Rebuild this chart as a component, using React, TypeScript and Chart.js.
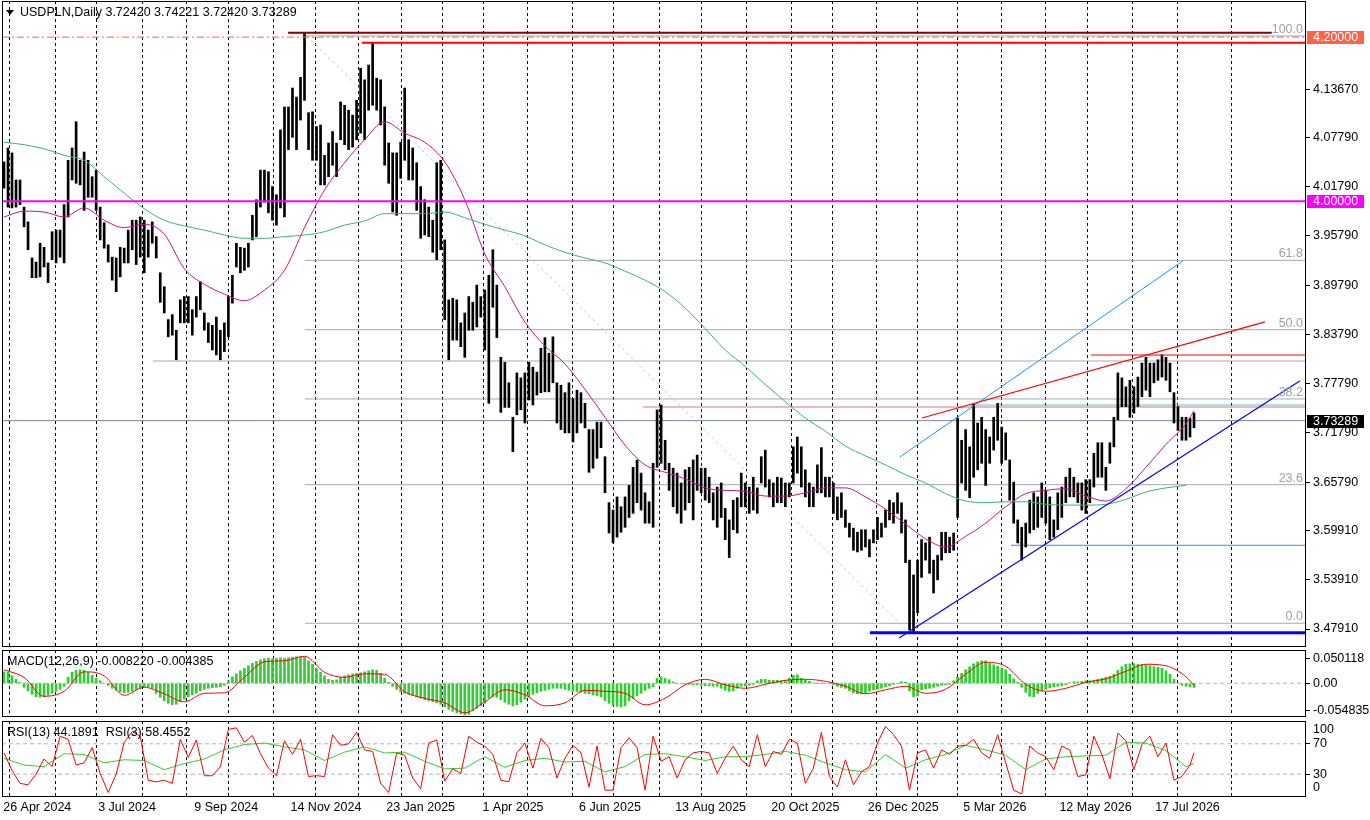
import React, { useEffect, useRef } from "react";
import { Chart, registerables } from "chart.js";

Chart.register(...registerables);

const FONT = "'Liberation Sans', Arial, sans-serif";
const FS = 12.5;

// ---------- header values ----------
const symbolName = "USDPLN";
const timeframe = "Daily";
const lastOpen = 3.7242;
const lastHigh = 3.74221;
const lastLow = 3.7242;
const lastClose = 3.73289;
const macdMainLast = -0.00822;
const macdSignalLast = -0.004385;
const rsiSlowLast = 44.1891;
const rsiFastLast = 58.4552;

// ---------- price bars (daily high / low) ----------
const barHigh = [
4.048,4.065,4.059,4.026,4.026,3.993,3.975,3.931,3.926,3.949,
3.944,3.925,3.963,3.965,3.965,3.996,4.050,4.065,4.097,4.050,
4.060,4.050,4.030,4.038,3.993,3.974,3.947,3.932,3.931,3.944,
3.943,3.965,3.977,3.977,3.981,3.977,3.965,3.975,3.957,3.913,
3.896,3.856,3.862,3.843,3.880,3.884,3.884,3.868,3.884,3.902,
3.864,3.852,3.849,3.859,3.843,3.852,3.884,3.910,3.949,3.944,
3.943,3.949,3.983,4.002,4.038,4.038,4.036,4.018,4.008,4.087,
4.115,4.115,4.138,4.127,4.151,4.205,4.108,4.109,4.091,4.093,
4.056,4.071,4.085,4.071,4.121,4.117,4.111,4.105,4.123,4.162,
4.148,4.166,4.193,4.150,4.148,4.115,4.071,4.059,4.059,4.072,
4.138,4.075,4.065,4.047,4.018,4.002,3.993,3.977,4.047,4.050,
3.953,3.880,3.882,3.880,3.852,3.864,3.884,3.877,3.898,3.884,
3.892,3.910,3.941,3.898,3.810,3.804,3.779,3.737,3.791,3.785,
3.791,3.804,3.798,3.792,3.821,3.834,3.815,3.835,3.779,3.776,
3.767,3.779,3.760,3.770,3.767,3.754,3.722,3.722,3.731,3.731,
3.689,3.633,3.624,3.640,3.628,3.640,3.654,3.676,3.685,3.669,
3.645,3.634,3.681,3.746,3.752,3.709,3.681,3.675,3.669,3.657,
3.673,3.676,3.685,3.691,3.675,3.675,3.664,3.645,3.652,3.657,
3.626,3.612,3.636,3.639,3.669,3.657,3.652,3.664,3.651,3.689,
3.697,3.661,3.657,3.664,3.663,3.657,3.657,3.701,3.713,3.701,
3.673,3.657,3.652,3.679,3.700,3.664,3.664,3.657,3.640,3.645,
3.624,3.608,3.602,3.597,3.600,3.600,3.588,3.600,3.615,3.608,
3.624,3.636,3.633,3.645,3.633,3.612,3.563,3.545,3.563,3.588,
3.584,3.591,3.563,3.569,3.597,3.597,3.591,3.596,3.736,3.709,
3.722,3.701,3.753,3.730,3.737,3.722,3.713,3.737,3.754,3.725,
3.718,3.685,3.658,3.612,3.603,3.608,3.636,3.645,3.640,3.657,
3.648,3.640,3.612,3.645,3.652,3.664,3.675,3.664,3.657,3.657,
3.661,3.661,3.693,3.706,3.706,3.676,3.706,3.737,3.791,3.785,
3.774,3.782,3.774,3.786,3.803,3.810,3.803,3.803,3.807,3.813,
3.810,3.803,3.767,3.750,3.737,3.737,3.736,3.74221];

const barLow = [
4.016,3.993,3.992,3.993,3.996,3.969,3.941,3.907,3.907,3.908,
3.920,3.901,3.929,3.925,3.932,3.925,3.981,4.026,4.022,4.020,
3.989,4.005,4.005,3.989,3.953,3.943,3.926,3.904,3.890,3.908,
3.925,3.925,3.941,3.923,3.932,3.913,3.932,3.949,3.931,3.877,
3.864,3.835,3.837,3.807,3.852,3.852,3.852,3.837,3.859,3.868,
3.843,3.828,3.819,3.813,3.807,3.817,3.835,3.876,3.920,3.913,
3.916,3.920,3.953,3.957,3.993,3.999,3.986,3.977,3.971,3.992,
3.981,4.063,4.078,4.063,4.099,4.123,4.063,4.050,4.050,4.020,
4.020,4.030,4.044,4.030,4.075,4.069,4.063,4.066,4.075,4.083,
4.075,4.111,4.117,4.111,4.093,4.044,4.022,3.987,3.983,4.028,
4.050,4.026,4.026,3.989,3.955,3.959,3.957,3.938,3.929,3.941,
3.856,3.807,3.831,3.831,3.823,3.810,3.843,3.843,3.847,3.859,
3.819,3.754,3.871,3.834,3.743,3.749,3.749,3.695,3.740,3.746,
3.730,3.758,3.752,3.764,3.767,3.768,3.768,3.779,3.730,3.722,
3.718,3.718,3.707,3.718,3.730,3.724,3.670,3.675,3.687,3.700,
3.645,3.596,3.584,3.591,3.597,3.603,3.615,3.620,3.633,3.624,
3.608,3.608,3.603,3.676,3.681,3.673,3.648,3.628,3.620,3.608,
3.624,3.633,3.612,3.648,3.645,3.636,3.633,3.612,3.603,3.615,
3.588,3.566,3.600,3.596,3.628,3.628,3.620,3.624,3.620,3.657,
3.652,3.640,3.628,3.633,3.633,3.628,3.640,3.657,3.669,3.652,
3.640,3.628,3.628,3.645,3.645,3.640,3.640,3.620,3.612,3.615,
3.603,3.591,3.575,3.573,3.575,3.579,3.567,3.584,3.588,3.591,
3.603,3.612,3.608,3.620,3.596,3.560,3.478,3.474,3.499,3.542,
3.563,3.547,3.523,3.539,3.563,3.572,3.572,3.575,3.615,3.657,
3.648,3.639,3.664,3.673,3.681,3.654,3.681,3.697,3.709,3.681,
3.685,3.636,3.608,3.584,3.563,3.579,3.596,3.600,3.603,3.615,
3.608,3.588,3.591,3.600,3.615,3.633,3.640,3.640,3.633,3.624,
3.620,3.633,3.652,3.664,3.664,3.648,3.681,3.701,3.734,3.750,
3.750,3.737,3.742,3.750,3.762,3.770,3.762,3.779,3.782,3.786,
3.782,3.768,3.730,3.721,3.709,3.709,3.713,3.7242];

// ---------- moving averages (one reading every 5 bars) ----------
const maStep = 5;
const maFast = [
3.981,3.988,3.987,3.981,3.992,3.977,3.968,3.972,3.960,3.918,
3.899,3.887,3.879,3.892,3.916,3.968,4.014,4.047,4.075,4.097,
4.083,4.072,4.048,4.002,3.936,3.896,3.853,3.824,3.802,3.771,
3.737,3.703,3.679,3.670,3.662,3.651,3.648,3.647,3.641,3.641,
3.645,3.651,3.651,3.640,3.625,3.607,3.589,3.579,3.592,3.608,
3.628,3.644,3.648,3.650,3.641,3.635,3.650,3.676,3.704,3.729,
3.745];
const maSlow = [
4.072,4.069,4.064,4.056,4.050,4.030,4.010,3.991,3.977,3.970,
3.965,3.959,3.955,3.955,3.957,3.959,3.963,3.971,3.976,3.985,
3.985,3.985,3.987,3.980,3.972,3.965,3.958,3.947,3.938,3.931,
3.925,3.915,3.904,3.890,3.870,3.845,3.819,3.799,3.777,3.756,
3.736,3.720,3.702,3.690,3.679,3.667,3.657,3.644,3.635,3.633,
3.634,3.634,3.631,3.630,3.630,3.631,3.637,3.646,3.651,3.654];

// ---------- MACD ----------
const macdHist = [
0.023,0.022,0.015,0.008,0.002,-0.008,-0.015,-0.022,-0.027,-0.028,
-0.027,-0.024,-0.02,-0.016,-0.012,-0.006,0.012,0.022,0.026,0.027,
0.026,0.022,0.016,0.01,0.005,0,-0.004,-0.01,-0.014,-0.017,
-0.019,-0.018,-0.016,-0.013,-0.01,-0.007,-0.007,-0.01,-0.02,-0.028,
-0.035,-0.04,-0.043,-0.042,-0.037,-0.032,-0.027,-0.023,-0.02,-0.015,
-0.012,-0.01,-0.009,-0.008,-0.007,-0.004,0.005,0.013,0.019,0.025,
0.03,0.035,0.04,0.044,0.047,0.049,0.05,0.049,0.05,0.051,
0.05,0.051,0.052,0.053,0.053,0.052,0.045,0.038,0.03,0.022,
0.015,0.008,0.006,0.007,0.012,0.015,0.017,0.019,0.02,0.021,
0.023,0.025,0.027,0.026,0.02,0.01,0.002,-0.006,-0.012,-0.017,
-0.02,-0.022,-0.024,-0.027,-0.03,-0.033,-0.035,-0.037,-0.039,-0.042,
-0.047,-0.052,-0.056,-0.059,-0.061,-0.063,-0.062,-0.055,-0.05,-0.045,
-0.04,-0.03,-0.027,-0.028,-0.033,-0.038,-0.042,-0.045,-0.043,-0.038,
-0.032,-0.027,-0.022,-0.019,-0.016,-0.014,-0.012,-0.01,-0.01,-0.01,
-0.012,-0.014,-0.016,-0.017,-0.018,-0.02,-0.021,-0.023,-0.025,-0.027,
-0.035,-0.04,-0.044,-0.046,-0.047,-0.045,-0.035,-0.03,-0.025,-0.02,
-0.014,-0.01,-0.007,0.01,0.013,0.01,0.007,0.003,0,-0.001,
-0.002,-0.002,-0.003,-0.003,-0.004,-0.005,-0.005,-0.006,-0.006,-0.01,
-0.014,-0.016,-0.015,-0.01,-0.006,-0.005,-0.004,-0.002,0.005,0.008,
0.008,0.006,0.006,0.006,0.005,0.006,0.01,0.016,0.017,0.01,
0.007,0.004,0.001,0,0,0,-0.001,-0.003,-0.006,-0.008,
-0.01,-0.015,-0.019,-0.021,-0.021,-0.02,-0.016,-0.013,-0.012,-0.01,
-0.007,-0.005,-0.002,0,0.003,0.002,-0.015,-0.027,-0.025,-0.013,
-0.011,-0.01,-0.008,-0.006,-0.004,-0.003,-0.002,0.005,0.012,0.02,
0.027,0.033,0.039,0.043,0.045,0.045,0.04,0.037,0.034,0.03,
0.027,0.018,0.009,0.002,-0.008,-0.018,-0.026,-0.027,-0.02,-0.015,
-0.012,-0.009,-0.007,-0.006,-0.005,-0.003,0.001,0.003,0.003,0.004,
0.005,0.005,0.006,0.008,0.01,0.012,0.014,0.018,0.026,0.033,
0.038,0.039,0.039,0.038,0.037,0.036,0.035,0.033,0.032,0.03,
0.025,0.018,0.008,-0.001,-0.004,-0.006,-0.007,-0.00822];
const macdSignal = [
0.027,0.012,-0.026,-0.016,0.023,0.015,-0.024,-0.008,-0.021,-0.037,
-0.02,-0.019,0.012,0.043,0.045,0.054,0.022,0.012,0.019,0.018,
-0.017,-0.03,-0.039,-0.059,-0.037,-0.013,-0.023,-0.045,-0.039,-0.014,
-0.016,-0.02,-0.043,-0.03,-0.003,0.008,-0.003,-0.01,-0.002,0.006,
0.008,0.004,-0.006,-0.021,-0.013,-0.006,-0.02,-0.012,0.018,0.042,
0.034,-0.002,-0.016,-0.01,0.002,0.009,0.024,0.038,0.035,0.013,
-0.004385];

// ---------- RSI ----------
const rsiSlow = [
51,42,40,57,56,45,49,48,36,44,
50,62,69,71,66,62,48,59,66,58,
59,47,37,38,53,39,48,51,46,47,
33,40,56,57,53,48,53,53,56,60,
55,45,36,33,56,38,49,56,68,62,
55,36,50,53,54,55,72,71,61,40,
44.1891];
const rsiFastStep = 2;
const rsiFast = [
58,35,18,16,30,50,40,80,76,42,
45,65,31,6,30,72,86,80,22,20,
22,18,76,52,75,28,28,40,89,91,
72,81,57,38,28,74,56,76,27,28,
27,82,68,70,85,62,60,18,6,58,
55,25,11,71,75,21,37,31,80,72,
67,56,22,20,58,71,38,77,65,25,
51,68,58,13,67,9,9,65,78,65,
9,80,47,53,25,49,58,60,58,31,
51,67,49,40,82,40,60,56,76,71,
18,38,85,27,13,49,16,33,40,71,
93,82,67,9,58,62,38,62,56,67,
68,76,58,51,82,45,9,4,67,58,
53,36,67,62,27,29,80,56,24,84,
74,36,69,80,53,71,22,27,42,
58.4552];

// ---------- axes ----------
const priceTicks = [4.1367, 4.0779, 4.0179, 3.9579, 3.8979, 3.8379, 3.7779, 3.7179, 3.6579, 3.5991, 3.5391, 3.4791];
const macdTicks = [0.050118, 0, -0.054835];
const macdTickLabels = ["0.050118", "0.00", "-0.054835"];
const rsiLevels = [70, 30];
const rsiEdgeValues = [100, 0];
const dateLabels = ["26 Apr 2024", "3 Jul 2024", "9 Sep 2024", "14 Nov 2024", "23 Jan 2025", "1 Apr 2025", "6 Jun 2025", "13 Aug 2025", "20 Oct 2025", "26 Dec 2025", "5 Mar 2026", "12 May 2026", "17 Jul 2026"];
const dateLabelBars = [-0.2, 23.5, 47.5, 71.5, 95.4, 119.4, 143.5, 167.5, 191.5, 215.6, 239.4, 263.4, 287.3];
const monthGridBars = [1.3, 12.8, 22.9, 34.4, 45.3, 55.8, 67.2, 77.7, 88.3, 99.2, 109.2, 119.6, 130.6, 141.7, 152.1, 163.5, 174, 185.1, 196.3, 206.6, 217.6, 227.9, 237.9, 248.9, 259.9, 270.3, 281.4, 292.7, 306.3];

// ---------- drawn objects (bar index, price) ----------
const fibLabels = ["100.0", "61.8", "50.0", "38.2", "23.6", "0.0"];
const fibPrices = [4.2014, 3.9281, 3.8437, 3.7593, 3.6549, 3.4861];
const fibStartBar = 75.1;
const fibDiagonal = [[75.6, 4.2014], [225.6, 3.4761]];
const levelRound420 = 4.2;
const levelRound400 = 4.0;
const maroonLine = [70.9, 316.4, 4.2054];
const redTopLine = [89.3, 4.1932];
const rangeTopLine = [271.3, 3.8128];
const grayLevelLine = [37.2, 3.8055];
const pinkLevelLine = [159.5, 3.7495];
const tealLevelLine = [241.1, 3.7519];
const supportLevelLine = [251.3, 3.5811];
const bottomLine = [216.1, 3.4746];
const redTrend = [[229.1, 3.7361], [314.7, 3.8531]];
const channelTrend = [[223.6, 3.6886], [294.2, 3.9273]];
const supportTrend = [[223.4, 3.4682], [323.4, 3.7812]];
const boxPrices = [levelRound420, levelRound400, lastClose];

// ---------- layout constants ----------
const X_MIN = -0.499;
const X_MAX = 324.95;
const boxColors = ["#ff6347", "#ff00ff", "#000000"];

const stepPts = (vals: number[], step: number) =>
  vals.map((v, k) => ({ x: Math.min(k * step, barHigh.length - 1), y: v }));
const seg = (x0: number, y0: number, x1: number, y1: number) => [
  { x: x0, y: y0 },
  { x: x1, y: y1 },
];

const lineDs = (data: any[], color: string, width = 1, dash: number[] = [], order = 3, extra: any = {}) => ({
  type: "line",
  data,
  borderColor: color,
  backgroundColor: color,
  borderWidth: width,
  borderDash: dash,
  pointRadius: 0,
  fill: false,
  tension: 0,
  order,
  ...extra,
});

const panelPlugin = {
  id: "panel",
  beforeDatasetsDraw(chart: any) {
    const { ctx, chartArea: a } = chart;
    const xs = chart.scales.x;
    ctx.save();
    ctx.beginPath();
    ctx.rect(a.left, a.top, a.right - a.left, a.bottom - a.top);
    ctx.clip();
    ctx.strokeStyle = "#000";
    ctx.lineWidth = 1;
    ctx.setLineDash([3, 3]);
    monthGridBars.forEach((b) => {
      const px = Math.round(xs.getPixelForValue(b)) + 0.5;
      ctx.beginPath();
      ctx.moveTo(px, a.top);
      ctx.lineTo(px, a.bottom);
      ctx.stroke();
    });
    ctx.restore();
  },
  afterDraw(chart: any, _args: any, opts: any) {
    const { ctx, chartArea: a } = chart;
    const ys = chart.scales.y;
    ctx.save();
    ctx.setLineDash([]);
    ctx.strokeStyle = "#000";
    ctx.lineWidth = 1;
    ctx.strokeRect(a.left + 0.5, a.top + 0.5, a.right - a.left - 1, a.bottom - a.top - 1);
    ctx.font = `${FS}px ${FONT}`;
    if (opts.kind === "main") {
      ctx.fillStyle = "#a0a0a0";
      ctx.textAlign = "right";
      ctx.textBaseline = "alphabetic";
      fibPrices.forEach((p, k) => {
        ctx.fillText(fibLabels[k], a.right - 3, ys.getPixelForValue(p) - 3);
      });
      ctx.textAlign = "left";
      ctx.textBaseline = "middle";
      boxPrices.forEach((p, k) => {
        const y = ys.getPixelForValue(p);
        ctx.fillStyle = boxColors[k];
        ctx.fillRect(a.right + 1, Math.round(y) - 6, 57, 13);
        ctx.fillStyle = "#ffffff";
        ctx.fillText(p.toFixed(5), a.right + 7, Math.round(y) + 0.5);
      });
    }
    if (opts.kind === "rsi") {
      ctx.fillStyle = "#000";
      ctx.textAlign = "left";
      ctx.textBaseline = "middle";
      rsiEdgeValues.forEach((v) => {
        const y = ys.getPixelForValue(v) + (v > 50 ? 9 : -9);
        ctx.fillText(String(v), a.right + 7, y);
      });
    }
    ctx.restore();
  },
};

const xScale = (display: boolean) => ({
  type: "linear",
  min: X_MIN,
  max: X_MAX,
  offset: false,
  bounds: "data",
  display,
  grid: { drawOnChartArea: false, drawTicks: false },
  border: { display: false },
  afterBuildTicks: (s: any) => {
    s.ticks = dateLabelBars.map((v) => ({ value: v }));
  },
  afterFit: (s: any) => {
    s.height = display ? 23 : 0;
    s.paddingLeft = 0;
    s.paddingRight = 0;
  },
  ticks: {
    autoSkip: false,
    maxRotation: 0,
    minRotation: 0,
    align: "start",
    padding: 3,
    color: "#000",
    font: { family: FONT, size: FS },
    callback: (_v: any, i: number) => dateLabels[i],
  },
});

const yScale = (min: number, max: number, ticks: number[], fmt: (v: number) => string) => ({
  type: "linear",
  position: "right",
  min,
  max,
  bounds: "data",
  afterBuildTicks: (s: any) => {
    s.ticks = ticks.map((v) => ({ value: v }));
  },
  afterFit: (s: any) => {
    s.width = 64;
    s.paddingTop = 0;
    s.paddingBottom = 0;
  },
  grid: { drawOnChartArea: false, drawTicks: true, tickLength: 4, color: "#000", tickColor: "#000" },
  border: { display: false },
  ticks: {
    autoSkip: false,
    padding: 3,
    color: "#000",
    font: { family: FONT, size: FS },
    callback: (v: any) => fmt(Number(v)),
  },
});

const baseOptions = (kind: string, padding: any, scales: any) => ({
  responsive: false,
  animation: false,
  events: [],
  layout: { padding, autoPadding: false },
  plugins: { legend: { display: false }, tooltip: { enabled: false }, panel: { kind } },
  scales,
});

function mainConfig(): any {
  const bars = barHigh.map((h, i) => ({ x: i, y: [barLow[i], h] }));
  const fibDs = fibPrices.map((p) => lineDs(seg(fibStartBar, p, X_MAX, p), "#a9a9a9", 1, [], 8));
  return {
    type: "line",
    data: {
      datasets: [
        ...fibDs,
        lineDs(seg(fibDiagonal[0][0], fibDiagonal[0][1], fibDiagonal[1][0], fibDiagonal[1][1]), "#a8d4dc", 1, [3, 3], 8),
        lineDs(seg(grayLevelLine[0], grayLevelLine[1], X_MAX, grayLevelLine[1]), "#a9a9a9", 1, [], 8),
        lineDs(seg(X_MIN, lastClose, X_MAX, lastClose), "#7a8696", 1, [], 7),
        lineDs(seg(pinkLevelLine[0], pinkLevelLine[1], X_MAX, pinkLevelLine[1]), "#db7093", 1, [], 7),
        lineDs(seg(tealLevelLine[0], tealLevelLine[1], X_MAX, tealLevelLine[1]), "#48d1cc", 1, [], 7),
        lineDs(seg(supportLevelLine[0], supportLevelLine[1], X_MAX, supportLevelLine[1]), "#3a8ee6", 1, [], 7),
        {
          type: "bar",
          data: bars,
          backgroundColor: "#000000",
          barThickness: 2,
          grouped: false,
          order: 6,
        },
        lineDs(stepPts(maSlow, maStep), "#3cb371", 1, [], 4, { cubicInterpolationMode: "monotone" }),
        lineDs(stepPts(maFast, maStep), "#c71585", 1, [], 4, { cubicInterpolationMode: "monotone" }),
        lineDs(seg(redTrend[0][0], redTrend[0][1], redTrend[1][0], redTrend[1][1]), "#ff0000", 1.2, [], 3),
        lineDs(seg(channelTrend[0][0], channelTrend[0][1], channelTrend[1][0], channelTrend[1][1]), "#1e90ff", 1, [], 3),
        lineDs(seg(supportTrend[0][0], supportTrend[0][1], supportTrend[1][0], supportTrend[1][1]), "#0000ff", 1.2, [], 3),
        lineDs(seg(rangeTopLine[0], rangeTopLine[1], X_MAX, rangeTopLine[1]), "#ff0000", 1, [], 3),
        lineDs(seg(X_MIN, levelRound420, X_MAX, levelRound420), "#ff6347", 1, [7, 3, 2, 3], 2),
        lineDs(seg(maroonLine[0], maroonLine[2], maroonLine[1], maroonLine[2]), "#8b0000", 2, [], 2),
        lineDs(seg(redTopLine[0], redTopLine[1], X_MAX, redTopLine[1]), "#ff0000", 2, [], 2),
        lineDs(seg(X_MIN, levelRound400, X_MAX, levelRound400), "#ff00ff", 2, [], 2),
        lineDs(seg(bottomLine[0], bottomLine[1], X_MAX, bottomLine[1]), "#0000ff", 3, [], 2),
      ],
    },
    options: baseOptions("main", { left: 2, right: 0, top: 1, bottom: 1 }, {
      x: xScale(false),
      y: yScale(3.4572, 4.244, priceTicks, (v) => v.toFixed(5)),
    }),
  };
}

function macdConfig(): any {
  const hist = macdHist.map((v, i) => ({ x: i, y: v }));
  return {
    type: "line",
    data: {
      datasets: [
        lineDs(seg(X_MIN, 0, X_MAX, 0), "#b4b4b4", 1, [4, 3], 9),
        { type: "bar", data: hist, backgroundColor: "#32cd32", barThickness: 2, grouped: false, order: 5 },
        lineDs(stepPts(macdSignal, maStep), "#ff0000", 1, [], 2, { cubicInterpolationMode: "monotone" }),
      ],
    },
    options: baseOptions("macd", { left: 2, right: 0, top: 1, bottom: 2 }, {
      x: xScale(false),
      y: yScale(-0.0674, 0.0666, macdTicks, (v) => {
        const k = macdTicks.findIndex((t) => Math.abs(t - v) < 1e-9);
        return k >= 0 ? macdTickLabels[k] : "";
      }),
    }),
  };
}

function rsiConfig(): any {
  return {
    type: "line",
    data: {
      datasets: [
        ...rsiLevels.map((l) => lineDs(seg(X_MIN, l, X_MAX, l), "#b4b4b4", 1, [4, 3], 9)),
        lineDs(stepPts(rsiSlow, maStep), "#32cd32", 1, [], 3),
        lineDs(stepPts(rsiFast, rsiFastStep), "#ff0000", 1, [], 2),
      ],
    },
    options: baseOptions("rsi", { left: 2, right: 0, top: 1, bottom: 0 }, {
      x: xScale(true),
      y: yScale(0, 100, rsiLevels, (v) => String(v)),
    }),
  };
}

function ChartCanvas({ top, height, make }: { top: number; height: number; make: () => any }) {
  const ref = useRef<HTMLCanvasElement | null>(null);
  useEffect(() => {
    if (!ref.current) return;
    const cfg = make();
    cfg.plugins = [panelPlugin];
    const chart = new Chart(ref.current, cfg);
    return () => chart.destroy();
  }, []);
  return (
    <canvas
      ref={ref}
      width={1370}
      height={height}
      style={{ position: "absolute", left: 0, top, width: 1370, height, display: "block" }}
    />
  );
}

const textStyle: any = {
  position: "absolute",
  fontFamily: FONT,
  fontSize: FS,
  lineHeight: "14px",
  color: "#000",
  whiteSpace: "pre",
};

export default function App() {
  const title = `${symbolName},${timeframe} ${lastOpen.toFixed(5)} ${lastHigh.toFixed(5)} ${lastLow.toFixed(5)} ${lastClose.toFixed(5)}`;
  const macdTitle = `MACD(12,26,9) ${macdMainLast.toFixed(6)} ${macdSignalLast.toFixed(6)}`;
  const rsiTitle = `RSI(13) ${rsiSlowLast.toFixed(4)}  RSI(3) ${rsiFastLast.toFixed(4)}`;
  return (
    <div style={{ position: "fixed", left: 0, top: 0, width: 1370, height: 820, background: "#fff", overflow: "hidden" }}>
      <ChartCanvas top={0} height={648} make={mainConfig} />
      <ChartCanvas top={649} height={70} make={macdConfig} />
      <ChartCanvas top={720} height={100} make={rsiConfig} />
      <div
        style={{
          position: "absolute",
          left: 6,
          top: 10,
          width: 0,
          height: 0,
          borderLeft: "4px solid transparent",
          borderRight: "4px solid transparent",
          borderTop: "5px solid #000",
        }}
      />
      <div style={{ ...textStyle, left: 20, top: 5 }}>{title}</div>
      <div style={{ ...textStyle, left: 7, top: 654 }}>{macdTitle}</div>
      <div style={{ ...textStyle, left: 7, top: 725 }}>{rsiTitle}</div>
    </div>
  );
}
